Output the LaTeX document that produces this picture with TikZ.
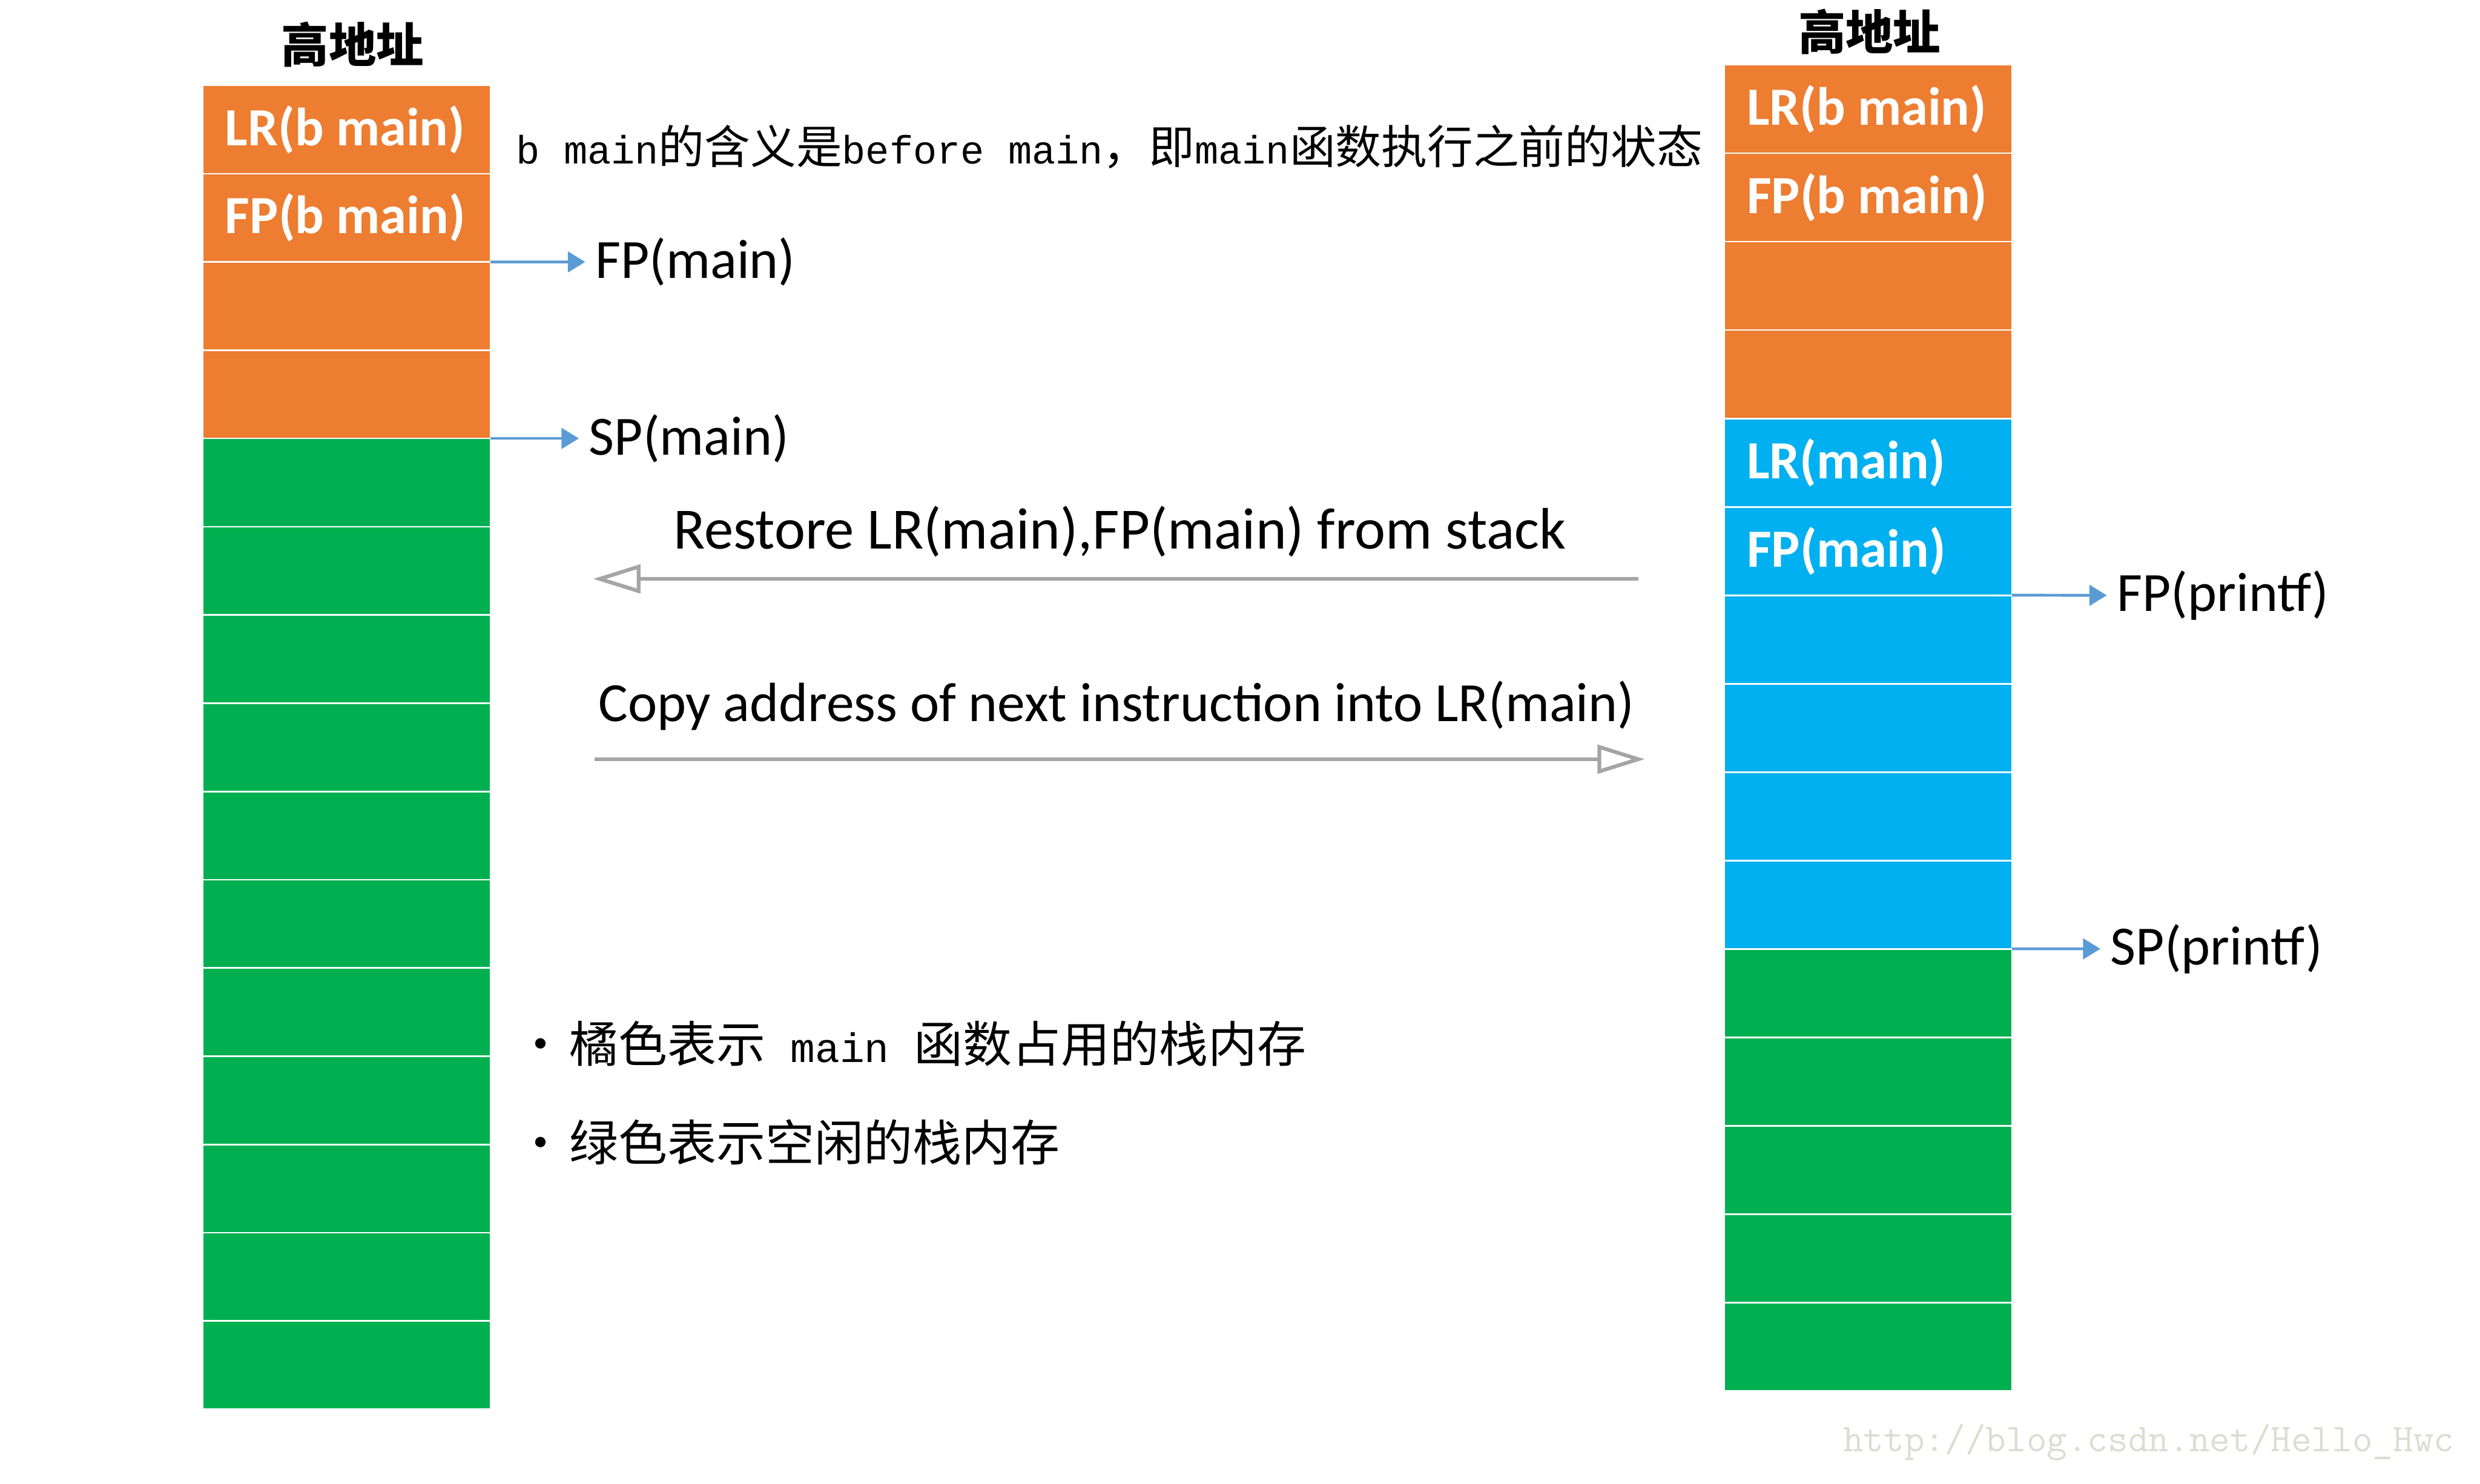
\documentclass[tikz,border=0pt]{standalone}
\usepackage{fontspec}
\usetikzlibrary{arrows.meta}
\newfontfamily\calibri{Carlito}
\newfontfamily\cjk{Noto Sans CJK SC}
\newfontfamily\halfw{Liberation Mono}
\newcommand\hw[2][12.5]{{\halfw\fontsize{#1}{#1}\selectfont #2}}
\definecolor{stkorange}{HTML}{ED7D31}
\definecolor{stkgreen}{HTML}{00B050}
\definecolor{stkblue}{HTML}{00B0F0}
\definecolor{ptrblue}{HTML}{5B9BD5}
\definecolor{flowgray}{HTML}{A5A5A5}
\definecolor{markgray}{HTML}{DCDCD4}
\begin{document}
\begin{tikzpicture}[x=0.5pt, y=-0.5pt,
  cell/.style={draw=white, line width=0.5pt, minimum width=91pt, minimum height=27.9pt, inner sep=0pt, outer sep=0pt, anchor=north west},
  cellname/.style={anchor=west, inner sep=0pt, xshift=7pt, text=white, font=\calibri\bfseries\fontsize{17}{18}\selectfont},
  ptrname/.style={anchor=west, inner sep=3pt, font=\calibri\fontsize{17.5}{18}\selectfont},
  ptr/.style={draw=ptrblue, line width=0.9pt, -{Triangle[length=5.5pt, width=6.5pt]}},
  flow/.style={draw=flowgray, line width=1.2pt, -{Triangle[open, length=15pt, width=9pt]}},
  flowname/.style={inner sep=0pt, font=\calibri\fontsize{17.5}{18}\selectfont},
  head/.style={inner sep=0pt, font=\cjk\bfseries\fontsize{15}{15}\selectfont},
  note/.style={anchor=west, inner sep=0pt, font=\cjk\fontsize{15.5}{16}\selectfont}
]
\useasboundingbox (0,0) rectangle (1568,938);

% left stack: frame of main, then free space
\foreach \i in {0,...,14}{
  \ifnum\i<4 \def\fillc{stkorange}\else\def\fillc{stkgreen}\fi
  \node[cell, fill=\fillc] (L\i) at (128, 54+55.8*\i) {};
}
\node[cellname] (L0name) at (L0.west) {LR(b main)};
\node[cellname] (L1name) at (L1.west) {FP(b main)};

% right stack: main, then printf
\foreach \i in {0,...,14}{
  \ifnum\i<4 \def\fillc{stkorange}\else\ifnum\i<10 \def\fillc{stkblue}\else\def\fillc{stkgreen}\fi\fi
  \node[cell, fill=\fillc] (R\i) at (1090, 41+55.9*\i) {};
}
\node[cellname] (R0name) at (R0.west) {LR(b main)};
\node[cellname] (R1name) at (R1.west) {FP(b main)};
\node[cellname] (R4name) at (R4.west) {LR(main)};
\node[cellname] (R5name) at (R5.west) {FP(main)};

\node[head] (hiL) at (223,28) {高地址};
\node[head] (hiR) at (1182,20) {高地址};

% frame and stack pointers
\node[ptrname] (fpmain) at (370,165.6) {FP(main)};
\draw[ptr] (L1.south east) -- (fpmain.west);
\node[ptrname] (spmain) at (366,277.2) {SP(main)};
\draw[ptr] (L3.south east) -- (spmain.west);
\node[ptrname] (fpprintf) at (1332,376.4) {FP(printf)};
\draw[ptr] (R5.south east) -- (fpprintf.west);
\node[ptrname] (spprintf) at (1328,599.9) {SP(printf)};
\draw[ptr] (R9.south east) -- (spprintf.west);

% call and return
\node[flowname, font=\calibri\fontsize{18.5}{19}\selectfont] (restore) at (708,336) {Restore LR(main),FP(main) from stack};
\coordinate (restoreFrom) at (1036,366);
\coordinate (restoreTo) at (375,366);
\draw[flow] (restoreFrom) -- (restoreTo);
\node[flowname] (copy) at (706,446) {Copy address of next instruction into LR(main)};
\coordinate (copyFrom) at (376,480);
\coordinate (copyTo) at (1040,480);
\draw[flow] (copyFrom) -- (copyTo);

% notes
\node[note, font=\cjk\fontsize{14.5}{15}\selectfont] (bmain) at (326,93) {\hw{b main}的含义是\hw{before main}，即\hw{main}函数执行之前的状态};
\node[note] (used) at (326,660) {•\hspace{1.4pt}橘色表示\hw[13]{ main }函数占用的栈内存};
\node[note] (free) at (326,722) {•\hspace{1.4pt}绿色表示空闲的栈内存};

\node[anchor=west, inner sep=0pt, text=markgray, font=\ttfamily\fontsize{12.5}{13}\selectfont] (mark) at (1165,912) {http://blog.csdn.net/Hello\_Hwc};
\end{tikzpicture}
\end{document}
